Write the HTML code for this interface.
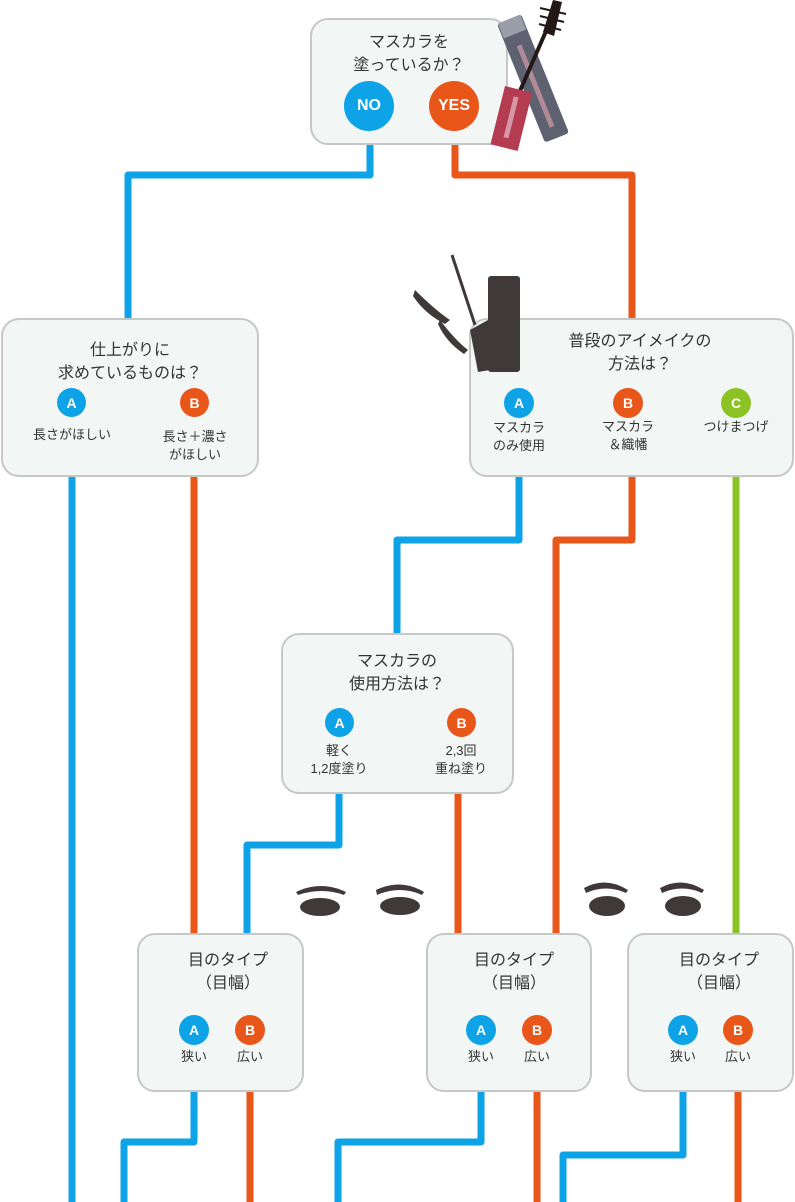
<!DOCTYPE html>
<html><head><meta charset="utf-8"><style>
body{margin:0;width:795px;height:1202px;background:#fff;position:relative;overflow:hidden;font-family:"Liberation Sans","Noto Sans CJK JP",sans-serif;color:#333}
.box{position:absolute;background:#f2f7f5;border:2.5px solid #c5c8c7;border-radius:18px;box-sizing:border-box}
.t{position:absolute;text-align:center;font-size:16px;line-height:23px;transform:translateX(-50%);white-space:nowrap;color:#333}
.s{position:absolute;text-align:center;font-size:13px;line-height:18px;transform:translateX(-50%);white-space:nowrap;color:#333}
.c{position:absolute;border-radius:50%;color:#fff;font-weight:bold;display:flex;align-items:center;justify-content:center;font-size:14px}
svg{position:absolute;left:0;top:0}
</style></head><body>
<svg width="795" height="1202" style="z-index:0">
<g fill="none" stroke-width="7" stroke-linejoin="round" stroke-linecap="butt">
<path d="M370 140V175H128V320" stroke="#0ea3e6"/>
<path d="M455 140V175H632V320" stroke="#e9561a"/>
<path d="M72 474V1202" stroke="#0ea3e6"/>
<path d="M194 474V937" stroke="#e9561a"/>
<path d="M519 474V540H397V635" stroke="#0ea3e6"/>
<path d="M632 474V540H556V937" stroke="#e9561a"/>
<path d="M736 474V937" stroke="#8cc324"/>
<path d="M339 790V845H247V937" stroke="#0ea3e6"/>
<path d="M458 790V937" stroke="#e9561a"/>
<path d="M194 1088V1142H124V1202" stroke="#0ea3e6"/>
<path d="M250 1088V1202" stroke="#e9561a"/>
<path d="M481 1088V1142H338V1202" stroke="#0ea3e6"/>
<path d="M537 1088V1202" stroke="#e9561a"/>
<path d="M683 1088V1155H563V1202" stroke="#0ea3e6"/>
<path d="M738 1088V1202" stroke="#e9561a"/>
</g>
</svg>
<div class="box" style="left:310px;top:18px;width:198px;height:127px"></div>
<div class="box" style="left:1px;top:318px;width:258px;height:159px"></div>
<div class="box" style="left:469px;top:318px;width:325px;height:159px"></div>
<div class="box" style="left:281px;top:633px;width:233px;height:161px"></div>
<div class="box" style="left:137px;top:933px;width:167px;height:159px"></div>
<div class="box" style="left:426px;top:933px;width:166px;height:159px"></div>
<div class="box" style="left:627px;top:933px;width:167px;height:159px"></div>
<svg width="795" height="1202">
<!-- top mascara -->
<g transform="translate(497,24) rotate(-22)"><rect x="0" y="0" width="26" height="128" rx="3" fill="#5d6170"/><rect x="1" y="0" width="24" height="16" fill="#9a9ea8"/><rect x="10" y="28" width="5" height="88" fill="#b08a97"/></g>
<line x1="516" y1="100" x2="550" y2="22" stroke="#231815" stroke-width="4"/>
<path d="M543 32 L553 0 L562 2 L554 36Z" fill="#231815"/>
<g stroke="#231815" stroke-width="2"><line x1="540" y1="8" x2="566" y2="14"/><line x1="540" y1="16" x2="564" y2="22"/><line x1="539" y1="24" x2="561" y2="30"/></g>
<g transform="translate(505,86) rotate(14)"><rect x="0" y="0" width="28" height="60" fill="#b43c50"/><rect x="11" y="8" width="5" height="42" fill="#d796a3"/></g>
<!-- second mascara -->
<g fill="#3f3a39"><rect x="488" y="276" width="32" height="96" rx="3"/><path d="M470 330 L488 320 L490 370 L478 372Z"/><line x1="452" y1="255" x2="475" y2="325" stroke="#3f3a39" stroke-width="3"/><path d="M415 290 q20 20 35 30 l-5 4 q-20 -10 -32 -28z"/><path d="M440 320 q15 20 28 30 l-4 4 q-18 -12 -26 -30z"/></g>
<!-- eyes -->
<g fill="#3f3a39">
<path d="M296 892 q25 -12 50 0 l-2 3 q-22 -8 -46 0z"/><ellipse cx="320" cy="907" rx="20" ry="9"/>
<path d="M376 890 q25 -12 48 2 l-2 3 q-22 -10 -45 0z"/><ellipse cx="400" cy="906" rx="20" ry="9"/>
<path d="M584 888 q22 -12 44 2 l-2 3 q-20 -9 -40 0z"/><ellipse cx="607" cy="906" rx="18" ry="10"/>
<path d="M660 888 q22 -12 44 2 l-2 3 q-20 -9 -40 0z"/><ellipse cx="683" cy="906" rx="18" ry="10"/>
</g>
</svg>
<div class="t" style="left:409px;top:31px">マスカラを<br>塗っているか？</div>
<div class="c" style="left:344px;top:81px;width:50px;height:50px;background:#0ea3e6;font-size:16px">NO</div>
<div class="c" style="left:429px;top:81px;width:50px;height:50px;background:#e9561a;font-size:16px">YES</div>

<div class="t" style="left:130px;top:339px">仕上がりに<br>求めているものは？</div>
<div class="c" style="left:57px;top:388px;width:29px;height:29px;background:#0ea3e6">A</div>
<div class="c" style="left:180px;top:388px;width:29px;height:29px;background:#e9561a">B</div>
<div class="s" style="left:72px;top:426px">長さがほしい</div>
<div class="s" style="left:195px;top:428px">長さ＋濃さ<br>がほしい</div>

<div class="t" style="left:640px;top:330px">普段のアイメイクの<br>方法は？</div>
<div class="c" style="left:504px;top:388px;width:30px;height:30px;background:#0ea3e6">A</div>
<div class="c" style="left:613px;top:388px;width:30px;height:30px;background:#e9561a">B</div>
<div class="c" style="left:721px;top:388px;width:30px;height:30px;background:#8cc324">C</div>
<div class="s" style="left:519px;top:419px">マスカラ<br>のみ使用</div>
<div class="s" style="left:628px;top:418px">マスカラ<br>＆織幡</div>
<div class="s" style="left:736px;top:418px">つけまつげ</div>

<div class="t" style="left:397px;top:650px">マスカラの<br>使用方法は？</div>
<div class="c" style="left:325px;top:708px;width:29px;height:29px;background:#0ea3e6">A</div>
<div class="c" style="left:447px;top:708px;width:29px;height:29px;background:#e9561a">B</div>
<div class="s" style="left:339px;top:742px">軽く<br>1,2度塗り</div>
<div class="s" style="left:461px;top:742px">2,3回<br>重ね塗り</div>

<div class="t" style="left:228px;top:949px">目のタイプ<br>（目幅）</div>
<div class="c" style="left:179px;top:1015px;width:30px;height:30px;background:#0ea3e6">A</div>
<div class="c" style="left:235px;top:1015px;width:30px;height:30px;background:#e9561a">B</div>
<div class="s" style="left:194px;top:1048px">狭い</div><div class="s" style="left:250px;top:1048px">広い</div>

<div class="t" style="left:514px;top:949px">目のタイプ<br>（目幅）</div>
<div class="c" style="left:466px;top:1015px;width:30px;height:30px;background:#0ea3e6">A</div>
<div class="c" style="left:522px;top:1015px;width:30px;height:30px;background:#e9561a">B</div>
<div class="s" style="left:481px;top:1048px">狭い</div><div class="s" style="left:537px;top:1048px">広い</div>

<div class="t" style="left:719px;top:949px">目のタイプ<br>（目幅）</div>
<div class="c" style="left:668px;top:1015px;width:30px;height:30px;background:#0ea3e6">A</div>
<div class="c" style="left:723px;top:1015px;width:30px;height:30px;background:#e9561a">B</div>
<div class="s" style="left:683px;top:1048px">狭い</div><div class="s" style="left:738px;top:1048px">広い</div>
</body></html>
